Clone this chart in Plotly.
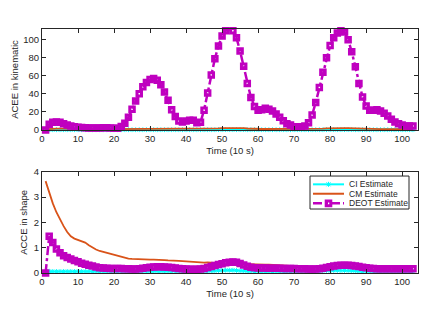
import plotly.graph_objects as go
from plotly.subplots import make_subplots

t = list(range(1, 104))

deot_top = [0, 6.5, 8.5, 9, 8.5, 7, 5.5, 4.5, 3.5, 3,
            2.8, 2.5, 2.3, 2.2, 2.2, 2.3, 2.5, 2.5, 2.2, 2,
            2, 4, 7.5, 14, 23, 32, 40, 48, 52.5, 56,
            57, 55, 50, 42, 33, 22.5, 15, 10, 9, 10,
            10.7, 10.7, 8, 8.5, 22, 41, 61, 79, 93, 104,
            110, 112, 110, 102, 87.5, 70.5, 51.5, 36, 26, 22,
            22.5, 24, 23, 21, 17.6, 14, 10.3, 7, 5.5, 3.7,
            3.7, 3.7, 4.4, 8, 16.5, 30.5, 47, 64, 80, 93.5,
            102, 107.5, 110, 108.5, 100, 86.5, 70, 51.5, 36.5, 26.5,
            22, 22, 22.5, 21, 18.5, 15.5, 12, 9, 7, 5.5,
            4.4, 4.4, 4.4]

cm_top = [0.8, 1.2, 1.5, 1.6, 1.5, 1.4, 1.3, 1.2, 1.1, 1.0,
          1.0, 1.0, 1.0, 1.0, 1.0, 1.0, 1.0, 1.0, 1.0, 1.0,
          1.0, 1.1, 1.2, 1.3, 1.4, 1.5, 1.5, 1.5, 1.5, 1.5,
          1.5, 1.4, 1.4, 1.3, 1.2, 1.1, 1.0, 1.0, 1.0, 1.0,
          1.0, 1.0, 1.0, 1.0, 1.1, 1.2, 1.4, 1.6, 1.8, 2.0,
          2.1, 2.2, 2.3, 2.4, 2.3, 2.0, 1.7, 1.4, 1.2, 1.1,
          1.1, 1.1, 1.1, 1.0, 1.0, 1.0, 1.0, 1.0, 0.9, 0.9,
          0.9, 0.9, 0.9, 1.0, 1.1, 1.2, 1.4, 1.6, 1.8, 2.0,
          2.1, 2.2, 2.2, 2.1, 2.0, 1.8, 1.6, 1.4, 1.2, 1.1,
          1.1, 1.1, 1.0, 1.0, 1.0, 1.0, 1.0, 1.0, 0.9, 0.9,
          0.9, 0.9, 0.9]

ci_top = [0.0, 0.3, 0.3, 0.3, 0.3, 0.3, 0.3, 0.3, 0.3, 0.3,
          0.3, 0.3, 0.3, 0.3, 0.3, 0.3, 0.3, 0.3, 0.3, 0.3,
          0.3, 0.3, 0.3, 0.3, 0.3, 0.3, 0.3, 0.3, 0.3, 0.3,
          0.3, 0.3, 0.3, 0.3, 0.3, 0.3, 0.3, 0.3, 0.3, 0.3,
          0.3, 0.3, 0.3, 0.3, 0.3, 0.3, 0.3, 0.3, 0.4, 0.4,
          0.4, 0.4, 0.4, 0.4, 0.4, 0.4, 0.3, 0.3, 0.3, 0.3,
          0.3, 0.3, 0.3, 0.3, 0.3, 0.3, 0.3, 0.3, 0.3, 0.3,
          0.3, 0.3, 0.3, 0.3, 0.3, 0.3, 0.3, 0.3, 0.4, 0.4,
          0.4, 0.4, 0.4, 0.4, 0.4, 0.4, 0.3, 0.3, 0.3, 0.3,
          0.3, 0.3, 0.3, 0.3, 0.3, 0.3, 0.3, 0.3, 0.3, 0.3,
          0.3, 0.3, 0.3]

cm_bot = [3.63, 3.15, 2.75, 2.4, 2.1, 1.85, 1.62, 1.45, 1.36, 1.3,
          1.25, 1.2, 1.1, 1.0, 0.93, 0.87, 0.83, 0.8, 0.76, 0.71,
          0.66, 0.62, 0.59, 0.57, 0.56, 0.55, 0.55, 0.54, 0.54, 0.53,
          0.53, 0.53, 0.52, 0.51, 0.5, 0.5, 0.49, 0.48, 0.47, 0.46,
          0.45, 0.43, 0.42, 0.41, 0.41, 0.42, 0.42, 0.4, 0.35, 0.33,
          0.33, 0.34, 0.35, 0.36, 0.36, 0.35, 0.35, 0.34, 0.34, 0.33,
          0.33, 0.33, 0.33, 0.32, 0.32, 0.31, 0.3, 0.28, 0.27, 0.26,
          0.26, 0.25, 0.24, 0.23, 0.22, 0.21, 0.21, 0.22, 0.23, 0.24,
          0.25, 0.26, 0.27, 0.27, 0.27, 0.26, 0.25, 0.24, 0.23, 0.22,
          0.21, 0.21, 0.2, 0.2, 0.2, 0.2, 0.2, 0.2, 0.2, 0.19,
          0.19, 0.19, 0.19]

deot_bot = [0, 1.45, 1.2, 0.95, 0.8, 0.68, 0.61, 0.55, 0.49, 0.44,
            0.39, 0.35, 0.31, 0.28, 0.24, 0.21, 0.2, 0.19, 0.18, 0.18,
            0.18, 0.18, 0.17, 0.17, 0.16, 0.16, 0.17, 0.19, 0.21, 0.23,
            0.24, 0.25, 0.25, 0.24, 0.23, 0.22, 0.2, 0.18, 0.17, 0.16,
            0.15, 0.15, 0.15, 0.16, 0.18, 0.22, 0.26, 0.3, 0.34, 0.37,
            0.4, 0.42, 0.43, 0.42, 0.38, 0.32, 0.27, 0.23, 0.21, 0.2,
            0.2, 0.2, 0.19, 0.19, 0.19, 0.19, 0.18, 0.18, 0.18, 0.18,
            0.17, 0.17, 0.17, 0.16, 0.16, 0.16, 0.17, 0.19, 0.22, 0.25,
            0.28, 0.3, 0.31, 0.31, 0.31, 0.3, 0.28, 0.26, 0.23, 0.21,
            0.19, 0.18, 0.17, 0.17, 0.17, 0.17, 0.17, 0.17, 0.17, 0.17,
            0.17, 0.17, 0.17]

ci_bot = [0.0, 0.07, 0.06, 0.06, 0.06, 0.06, 0.06, 0.06, 0.06, 0.06,
          0.06, 0.06, 0.06, 0.06, 0.06, 0.06, 0.06, 0.06, 0.06, 0.06,
          0.06, 0.06, 0.06, 0.06, 0.06, 0.06, 0.06, 0.06, 0.07, 0.07,
          0.07, 0.07, 0.07, 0.07, 0.06, 0.06, 0.06, 0.06, 0.06, 0.06,
          0.06, 0.06, 0.06, 0.06, 0.06, 0.07, 0.08, 0.09, 0.1, 0.1,
          0.11, 0.11, 0.11, 0.1, 0.09, 0.08, 0.07, 0.06, 0.06, 0.06,
          0.06, 0.06, 0.06, 0.06, 0.06, 0.06, 0.06, 0.06, 0.06, 0.06,
          0.06, 0.06, 0.06, 0.06, 0.06, 0.07, 0.08, 0.09, 0.1, 0.1,
          0.1, 0.1, 0.1, 0.1, 0.1, 0.09, 0.08, 0.07, 0.06, 0.06,
          0.06, 0.06, 0.06, 0.06, 0.06, 0.06, 0.06, 0.06, 0.06, 0.06,
          0.06, 0.06, 0.06]

series_names = ["CI Estimate", "CM Estimate", "DEOT Estimate"]
x_ticks = [0, 10, 20, 30, 40, 50, 60, 70, 80, 90, 100]
y_ticks_top = [0, 20, 40, 60, 80, 100]
y_ticks_bot = [0, 1, 2, 3, 4]

CYAN = "#00FFFF"
ORANGE = "#D95319"
MAGENTA = "#BF00BF"
AX = "#262626"
FONT = "Liberation Sans, Arial, sans-serif"

fig = make_subplots(rows=2, cols=1, vertical_spacing=0.17)


def add_series(row, ci, cm, deot):
    fig.add_trace(go.Scatter(
        x=t, y=ci, mode="lines+markers", name=series_names[0], showlegend=False,
        line=dict(color=CYAN, width=2), cliponaxis=False,
        marker=dict(symbol="asterisk-open", size=4, color=CYAN,
                    line=dict(color=CYAN, width=1))), row=row, col=1)
    fig.add_trace(go.Scatter(
        x=t, y=cm, mode="lines", name=series_names[1], showlegend=False,
        line=dict(color=ORANGE, width=1.8)), row=row, col=1)
    fig.add_trace(go.Scatter(
        x=t, y=deot, mode="lines+markers", name=series_names[2], showlegend=False,
        line=dict(color=MAGENTA, width=2.5, dash="dashdot"), cliponaxis=False,
        marker=dict(symbol="square-open", size=4.5, color=MAGENTA,
                    line=dict(color=MAGENTA, width=3))), row=row, col=1)


add_series(1, ci_top, cm_top, deot_top)
add_series(2, ci_bot, cm_bot, deot_bot)

axis_common = dict(showline=True, linecolor=AX, linewidth=1, mirror="ticks",
                   ticks="inside", ticklen=4, tickcolor=AX, showgrid=False,
                   zeroline=False, automargin=False,
                   tickfont=dict(size=9.5, color=AX, family=FONT))

for r in (1, 2):
    fig.update_xaxes(range=[0, 104.4], tickvals=x_ticks, row=r, col=1,
                     title=dict(text="Time (10 s)", font=dict(size=9.5, color=AX, family=FONT),
                                standoff=3),
                     **axis_common)

fig.update_yaxes(range=[0, 111.8], tickvals=y_ticks_top, row=1, col=1,
                 title=dict(text="ACEE in kinematic", font=dict(size=9.5, color=AX, family=FONT),
                            standoff=2),
                 **axis_common)
fig.update_yaxes(range=[0, 4], tickvals=y_ticks_bot, row=2, col=1,
                 title=dict(text="ACCE in shape", font=dict(size=9.5, color=AX, family=FONT),
                            standoff=4),
                 **axis_common)

# manual compact legend (MATLAB style) in the lower axes' domain coordinates
PX_W, PX_H = 376.0, 101.3
def dx(px):
    return (px - 42.0) / PX_W
def dy(py):
    return (273.0 - py) / PX_H

shapes = []
annos = []
box = dict(type="rect", xref="x2 domain", yref="y2 domain",
           x0=dx(310), x1=dx(409), y0=dy(209), y1=dy(176),
           line=dict(color=AX, width=1), fillcolor="white", layer="above")
shapes.append(box)
rows_py = [184.3, 193.7, 203.3]
lx0, lx1, mx = dx(313), dx(344), dx(328.5)
styles = [dict(color=CYAN, width=2), dict(color=ORANGE, width=2),
          dict(color=MAGENTA, width=2.5, dash="dashdot")]
for name, py, st in zip(series_names, rows_py, styles):
    shapes.append(dict(type="line", xref="x2 domain", yref="y2 domain",
                       x0=lx0, x1=lx1, y0=dy(py), y1=dy(py), line=st, layer="above"))
    annos.append(dict(xref="x2 domain", yref="y2 domain", x=dx(347), y=dy(py),
                      text=name, showarrow=False, xanchor="left", yanchor="middle",
                      font=dict(size=8.5, color=AX, family=FONT)))
# CI marker (small asterisk)
py = rows_py[0]
for (a, b, c, d) in [(0, -2.5, 0, 2.5), (-2, -2, 2, 2), (-2, 2, 2, -2)]:
    shapes.append(dict(type="line", xref="x2 domain", yref="y2 domain",
                       x0=dx(328.5 + a), y0=dy(py + b), x1=dx(328.5 + c), y1=dy(py + d),
                       line=dict(color=CYAN, width=1), layer="above"))
# DEOT marker (square)
py = rows_py[2]
shapes.append(dict(type="rect", xref="x2 domain", yref="y2 domain",
                   x0=dx(326.2), x1=dx(330.8), y0=dy(py + 2.3), y1=dy(py - 2.3),
                   line=dict(color=MAGENTA, width=3), fillcolor="rgba(0,0,0,0)",
                   layer="above"))

fig.update_layout(
    width=443, height=318,
    margin=dict(l=42, r=25, t=29, b=45, autoexpand=False),
    paper_bgcolor="white", plot_bgcolor="white",
    font=dict(family=FONT, size=9.5, color=AX),
    showlegend=False,
    shapes=shapes, annotations=annos,
)
fig.layout.yaxis.domain = [0.586, 1.0]
fig.layout.yaxis2.domain = [0.0, 0.415]

fig.write_html("out.html", config={"displayModeBar": False},
               post_script="document.body.style.margin='0';document.body.style.overflow='hidden';")
